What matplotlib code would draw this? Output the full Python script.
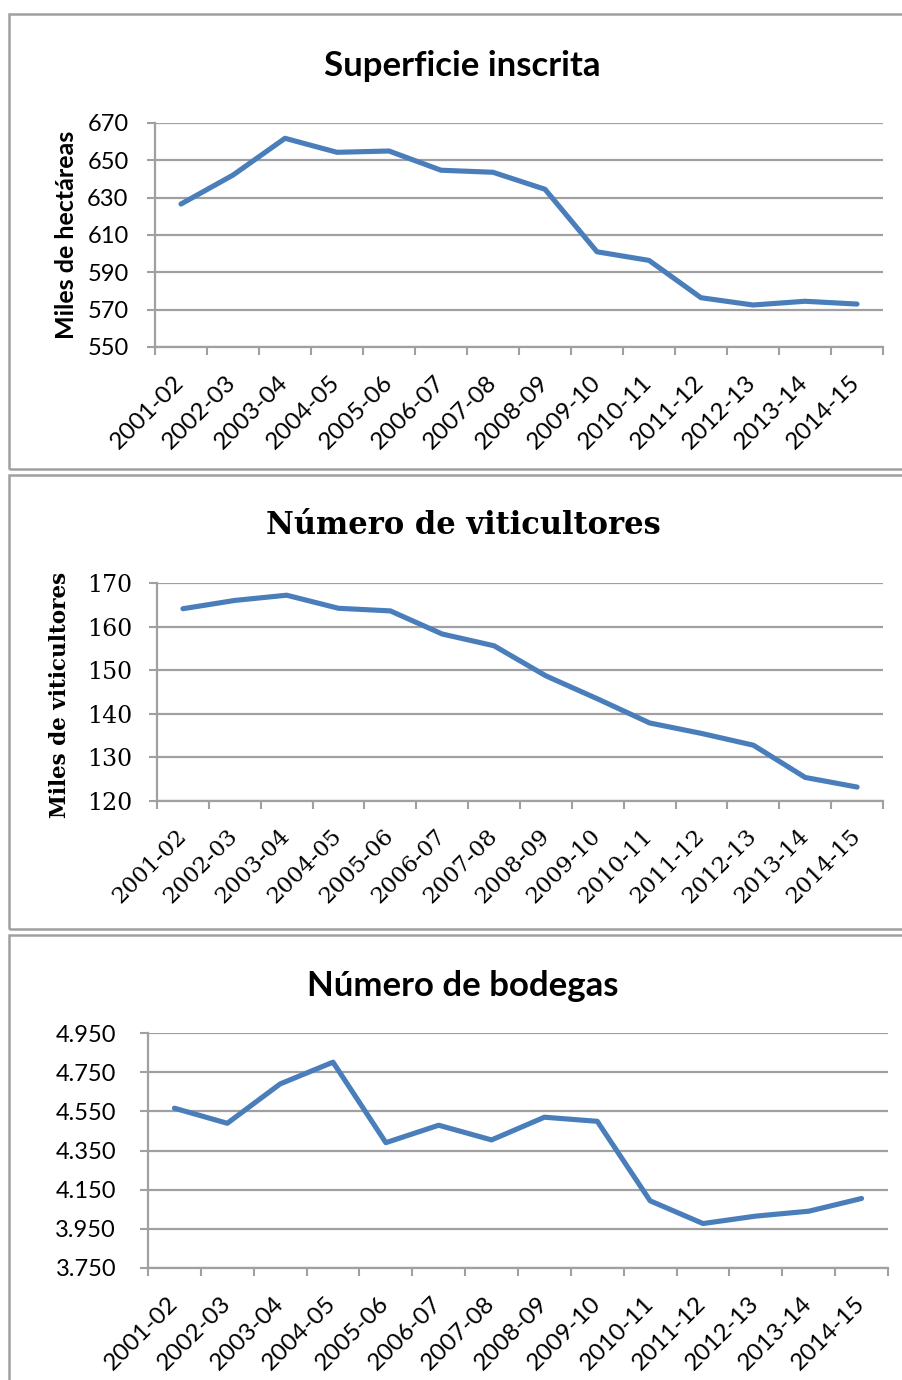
import matplotlib
matplotlib.use("Agg")
import matplotlib.pyplot as plt
from matplotlib.patches import Rectangle
from matplotlib.ticker import FuncFormatter
from matplotlib.transforms import ScaledTranslation

# ======================================================
# DATOS
# ======================================================

campanas = ['2001-02', '2002-03', '2003-04', '2004-05', '2005-06', '2006-07', '2007-08',
            '2008-09', '2009-10', '2010-11', '2011-12', '2012-13', '2013-14', '2014-15']

superficie = [626.6, 642.1, 661.8, 654.3, 655.0, 644.7, 643.6,
              634.5, 601.0, 596.4, 576.4, 572.5, 574.5, 573.0]

viticultores = [164.1, 166.0, 167.2, 164.2, 163.6, 158.3, 155.6,
                148.7, 143.4, 137.9, 135.5, 132.8, 125.4, 123.2]

bodegas = [4566, 4489, 4690, 4801, 4390, 4479, 4404,
           4520, 4499, 4093, 3977, 4015, 4040, 4105]

y_sup = [550, 570, 590, 610, 630, 650, 670]
y_vit = [120, 130, 140, 150, 160, 170]
y_bod = [3750, 3950, 4150, 4350, 4550, 4750, 4950]

# ======================================================
# ESTILO
# ======================================================

W, H = 902, 1380
AZUL = '#4a7ebb'
GRIS = '#a0a0a0'
SANS = 'Lato'
SERIF = 'DejaVu Serif'

fig = plt.figure(figsize=(W / 100, H / 100), dpi=100)


def px_axes(left, top, right, bottom):
    return fig.add_axes([left / W, (H - bottom) / H, (right - left) / W, (bottom - top) / H])


def marco(top, bottom):
    fig.patches.append(Rectangle((8.5 / W, (H - bottom) / H), (W + 20) / W, (bottom - top) / H,
                                 transform=fig.transFigure, fill=False,
                                 edgecolor=GRIS, linewidth=1.8))


def dibujar(ax, valores, yticks, fuente, xsize, ysize, ypad, fmt=None):
    x = list(range(len(campanas)))
    ax.plot(x, valores, color=AZUL, linewidth=3.7, solid_capstyle='round', zorder=3)
    ax.set_xlim(-0.5, len(campanas) - 0.5)
    ax.set_ylim(yticks[0], yticks[-1])
    ax.set_yticks(yticks)
    if fmt:
        ax.yaxis.set_major_formatter(FuncFormatter(fmt))
    ax.set_xticks(x)
    ax.set_xticks([i - 0.5 for i in range(len(campanas) + 1)], minor=True)
    ax.set_xticklabels(campanas, rotation=45, ha='right', va='center',
                       rotation_mode='anchor', family=fuente, fontsize=xsize)
    desplaza = ScaledTranslation(7 / 100, 0, fig.dpi_scale_trans)
    for lab in ax.get_xticklabels():
        lab.set_transform(lab.get_transform() + desplaza)
    ax.tick_params(axis='x', which='major', length=0, pad=23)
    ax.tick_params(axis='x', which='minor', length=6, width=1.5, color=GRIS)
    ax.tick_params(axis='y', length=6, width=1.5, color=GRIS, labelsize=ysize, pad=ypad)
    for lab in ax.get_yticklabels():
        lab.set_family(fuente)
    ax.grid(axis='y', color=GRIS, linewidth=1.6)
    ax.set_axisbelow(True)
    for s in ['top', 'right']:
        ax.spines[s].set_visible(False)
    for s in ['left', 'bottom']:
        ax.spines[s].set_color(GRIS)
        ax.spines[s].set_linewidth(1.6)


# Panel 1
marco(14, 469)
ax1 = px_axes(155, 123, 883, 347)
dibujar(ax1, superficie, y_sup, SANS, 17.5, 17, 13)
fig.text(462 / W, 1 - 66 / H, 'Superficie inscrita', ha='center', va='center',
         family=SANS, fontweight='bold', fontsize=25)
fig.text(67 / W, 1 - 235 / H, 'Miles de hectáreas', ha='center', va='center', rotation=90,
         family=SANS, fontweight='bold', fontsize=18)

# Panel 2
marco(475, 929)
ax2 = px_axes(157, 583, 883, 801)
dibujar(ax2, viticultores, y_vit, SERIF, 16.5, 17, 12)
fig.text(463 / W, 1 - 525 / H, 'Número de viticultores', ha='center', va='center',
         family=SERIF, fontweight='bold', fontsize=22)
fig.text(60 / W, 1 - 695 / H, 'Miles de viticultores', ha='center', va='center', rotation=90,
         family=SERIF, fontweight='bold', fontsize=15.5)

# Panel 3
marco(935, 1400)
ax3 = px_axes(148, 1033, 888, 1268)
dibujar(ax3, bodegas, y_bod, SANS, 17.5, 17, 17,
        fmt=lambda v, p: f'{v:,.0f}'.replace(',', '.'))
fig.text(463 / W, 1 - 986 / H, 'Número de bodegas', ha='center', va='center',
         family=SANS, fontweight='bold', fontsize=25)

fig.savefig('out.png', dpi=100, facecolor='white')
